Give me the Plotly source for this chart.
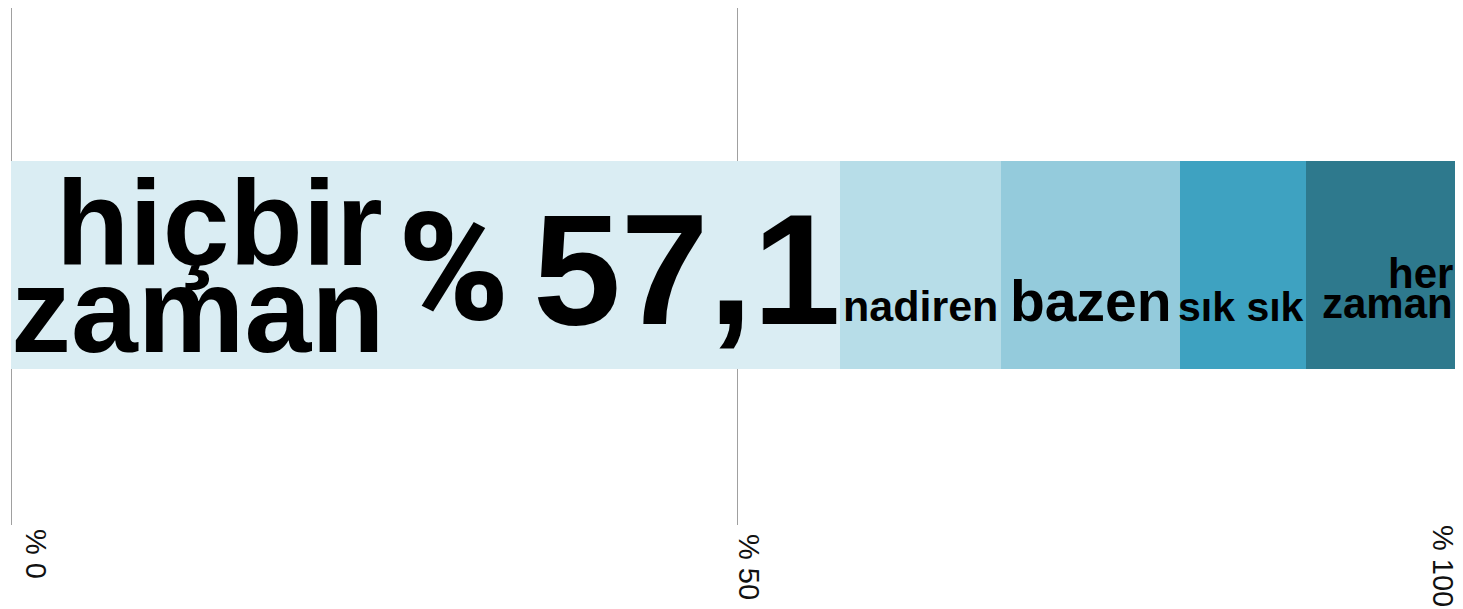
import plotly.graph_objects as go

# ---- data ----
categories = ["hiçbir zaman", "nadiren", "bazen", "sık sık", "her zaman"]
values = [57.1, 11.1, 12.3, 8.7, 10.8]
colors = ["#daedf3", "#b7dde8", "#94cbdc", "#3ea2c1", "#2e798d"]
tick_values = [0, 50, 100]
tick_labels = ["% 0", "% 50", "% 100"]

BOLD = "Liberation Sans, Arial, sans-serif"
PCT_FONT = "Roboto, Liberation Sans, Arial, sans-serif"

fig = go.Figure()
for cat, val, col in zip(categories, values, colors):
    fig.add_trace(go.Bar(
        y=[0], x=[val], orientation="h", name=cat,
        marker=dict(color=col, line=dict(width=0)),
        width=0.4, hoverinfo="skip", showlegend=False,
    ))

# cumulative segment ends
ends = []
acc = 0
for v in values:
    acc += v
    ends.append(acc)

annotations = []

def label(text, x, size, xshift, yshift, family=BOLD, weight="bold"):
    annotations.append(dict(
        x=x, y=0, xref="x", yref="y", text=text, showarrow=False,
        xanchor="right", yanchor="middle", xshift=xshift, yshift=yshift,
        font=dict(family=family, size=size, color="#000000", weight=weight),
    ))

# first (dominant) segment: two-line name, percent sign and value
first_words = categories[0].split(" ")
value_text = f"{values[0]:.1f}".replace(".", ",")
label(value_text, ends[0], 158, 3, -4)
label("%", ends[0], 150, -329, -4, family=PCT_FONT, weight=900)
label(first_words[0], ends[0], 120, -455, 42)
label(first_words[1], ends[0], 120, -454, -45)

# other segments
label(categories[1], ends[1], 43, -1, -41)
label(categories[2], ends[2], 57, -6, -36)
label(categories[3], ends[3], 41, 0, -42)
last_words = categories[4].split(" ")
label(last_words[0], ends[4], 42, -8, -8)
label(last_words[1], ends[4], 42, -8, -38)

# rotated tick labels
tick_xshifts = [25, 12, -20]
tick_yshifts = [-2, -7, 2]
for tv, tl, sx, sy in zip(tick_values, tick_labels, tick_xshifts, tick_yshifts):
    annotations.append(dict(
        x=tv, y=0, xref="x", yref="paper", text=tl, showarrow=False,
        textangle=90, xanchor="center", yanchor="top", xshift=sx, yshift=sy,
        font=dict(family="Liberation Sans, Arial, sans-serif", size=29, color="#111111"),
    ))

fig.update_layout(
    width=1455, height=601,
    margin=dict(l=3, r=0, t=0, b=84),
    barmode="stack",
    plot_bgcolor="white", paper_bgcolor="white",
    annotations=annotations,
    xaxis=dict(range=[0, 100], tickvals=tick_values, showticklabels=False,
               showgrid=True, gridcolor="#a0a0a0", gridwidth=1,
               zeroline=True, zerolinecolor="#a0a0a0", zerolinewidth=1,
               showline=False, fixedrange=True),
    yaxis=dict(range=[-0.5, 0.49423], showticklabels=False, showgrid=False,
               zeroline=False, showline=False, fixedrange=True),
)

fig.write_html("out.html", config={"displayModeBar": False})
